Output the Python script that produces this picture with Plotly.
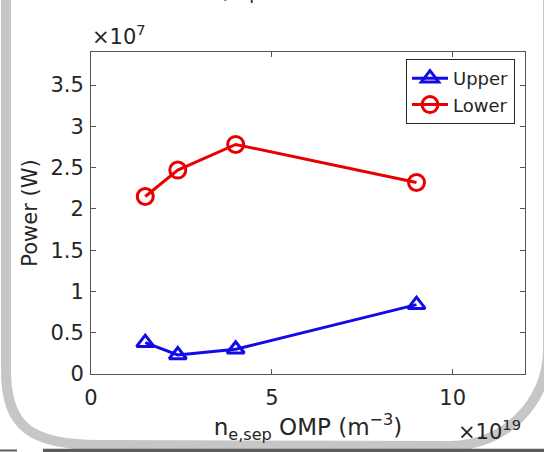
import plotly.graph_objects as go

# ---- data ----
density_e19 = [1.5, 2.4, 4.0, 9.0]          # n_e,sep OMP (x1e19 m^-3)
upper_power = [0.38e7, 0.23e7, 0.30e7, 0.84e7]  # W
lower_power = [2.15e7, 2.47e7, 2.78e7, 2.32e7]  # W
x_ticks = [0, 5, 10]
y_ticks = [0, 0.5e7, 1.0e7, 1.5e7, 2.0e7, 2.5e7, 3.0e7, 3.5e7]
y_ticktext = ["0", "0.5", "1", "1.5", "2", "2.5", "3", "3.5"]

W, H = 544, 452
L, R, T, B = 91, 525, 52, 374

def px(x):
    return (x - L) / (R - L)

def py(y):
    return (B - y) / (B - T)

FONT = "DejaVu Sans"
TXT = "#262626"
BLUE = "rgb(20,10,230)"
RED = "rgb(232,0,0)"

fig = go.Figure()
fig.add_trace(go.Scatter(
    x=density_e19, y=upper_power, name="Upper", mode="lines+markers",
    line=dict(color=BLUE, width=3),
    marker=dict(symbol="triangle-up-open", size=15, color=BLUE,
                line=dict(width=3, color=BLUE)),
))
fig.add_trace(go.Scatter(
    x=density_e19, y=lower_power, name="Lower", mode="lines+markers",
    line=dict(color=RED, width=3),
    marker=dict(symbol="circle-open", size=16, color=RED,
                line=dict(width=3, color=RED)),
))

axis_common = dict(
    showline=True, linecolor="#555555", linewidth=1, mirror="ticks",
    ticks="inside", ticklen=5, tickcolor="#555555", showgrid=False,
    zeroline=False, tickfont=dict(family=FONT, size=21, color=TXT),
)

fig.update_xaxes(range=[0, 12], tickvals=x_ticks, ticklabelstandoff=5,
                 title=dict(text="n<sub>e,sep</sub> OMP (m<sup>\u22123</sup>)",
                            font=dict(family=FONT, size=23, color=TXT), standoff=7),
                 **axis_common)
fig.update_yaxes(range=[0, 3.9e7], tickvals=y_ticks, ticktext=y_ticktext,
                 ticklabelstandoff=2,
                 title=dict(text="Power (W)",
                            font=dict(family=FONT, size=21, color=TXT), standoff=7),
                 **axis_common)

# rounded slide frame
k = 0.75
x0, yb = 6, 445
ls, le = 370, 100
xr, ybr = 548, 446
rs, re_ = 350, 450
k2 = 0.552
path = (
    f"M {px(x0)},{py(-30)} L {px(x0)},{py(ls)} "
    f"C {px(x0)},{py(ls + k*(yb-ls))} {px(le - k*(le-x0))},{py(yb)} {px(le)},{py(yb)} "
    f"L {px(re_)},{py(ybr)} "
    f"C {px(re_ + k2*(xr-re_))},{py(ybr)} {px(xr)},{py(rs + k2*(ybr-rs))} {px(xr)},{py(rs)} "
    f"L {px(xr)},{py(-30)}"
)
shapes = [
    dict(type="path", xref="paper", yref="paper", path=path,
         line=dict(color="#c6c6c6", width=10), layer="below"),
    dict(type="line", xref="paper", yref="paper",
         x0=px(43), x1=px(560), y0=py(450.5), y1=py(450.5),
         line=dict(color="#5c5c5c", width=3.5)),
    dict(type="line", xref="paper", yref="paper",
         x0=px(-5), x1=px(17), y0=py(450.5), y1=py(450.5),
         line=dict(color="#5c5c5c", width=2)),
]

annotations = [
    dict(text="\u00d710<sup>7</sup>", xref="paper", yref="paper",
         x=px(90), y=py(51), xanchor="left", yanchor="bottom", showarrow=False,
         font=dict(family=FONT, size=21, color=TXT)),
    dict(text="\u00d710<sup>19</sup>", xref="paper", yref="paper",
         x=px(523), y=py(446), xanchor="right", yanchor="bottom", showarrow=False,
         font=dict(family=FONT, size=21, color=TXT)),
    dict(text="e,sep", xref="paper", yref="paper",
         x=px(236), y=py(5), xanchor="center", yanchor="bottom", showarrow=False,
         font=dict(family=FONT, size=18, color=TXT)),
]

fig.update_layout(
    width=W, height=H,
    margin=dict(l=L, r=W - R, t=T, b=H - B, pad=0),
    paper_bgcolor="white", plot_bgcolor="white",
    showlegend=True,
    legend=dict(x=px(406), y=py(59), xanchor="left", yanchor="top",
                bgcolor="white", bordercolor="#262626", borderwidth=1,
                font=dict(family=FONT, size=18, color=TXT),
                tracegroupgap=0, itemwidth=36),
    shapes=shapes, annotations=annotations,
)

fig.write_html("out.html")
